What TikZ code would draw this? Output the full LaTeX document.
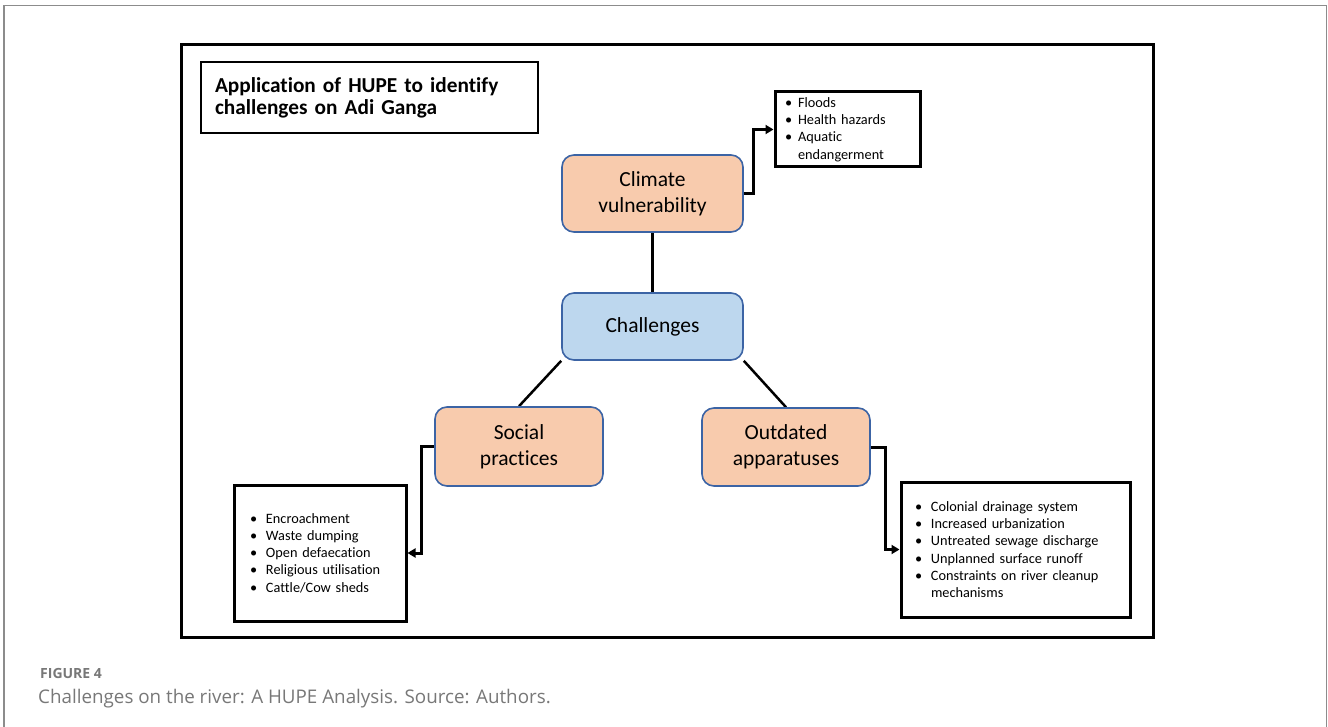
\documentclass[tikz,border=0pt]{standalone}
\usepackage{fontspec}
\setmainfont{Carlito}[Ligatures=NoCommon]
\newfontfamily\capfont{Open Sans}
\definecolor{boxpeach}{RGB}{248,203,173}
\definecolor{boxblue}{RGB}{189,215,238}
\definecolor{boxline}{RGB}{60,100,165}
\definecolor{capgray}{RGB}{120,120,120}
\definecolor{framegray}{RGB}{140,140,140}
\usetikzlibrary{arrows.meta,positioning,backgrounds}
\newcommand{\bul}[1][16pt]{\makebox[#1][l]{\textbullet}}

\begin{document}
\begin{tikzpicture}[x=1pt,y=-1pt,
  catbox/.style={draw=boxline,line width=1.6pt,fill=boxpeach,rounded corners=12pt,
                 align=center,inner sep=0pt,font=\fontsize{21.5}{26}\selectfont},
  listbox/.style={draw,line width=3pt,align=left,inner ysep=0pt,
                  font=\fontsize{14.3}{17.3}\selectfont},
  link/.style={line width=2.5pt},
  feed/.style={line width=3pt,-{Triangle[length=8pt,width=9pt]}}]
  \useasboundingbox (0,0) rectangle (1328,727);
  % frames
  \draw[framegray,line width=1.8pt] (4,727) -- (4,5.5) -- (1326.5,5.5) -- (1326.5,727);
  \draw[line width=3pt] (181,45) rectangle (1153,637);
  \node[draw,line width=1.5pt,minimum width=337pt,minimum height=71pt,
        text width=309pt,inner xsep=14pt,align=left,
        font=\bfseries\fontsize{21.3}{22}\selectfont]
        (title) at (369.5,97.5) {Application of HUPE to identify\\challenges on Adi Ganga};
  % categories
  \node[catbox,minimum width=181pt,minimum height=77pt] (climate) at (652.5,193.5) {Climate\\vulnerability};
  \node[catbox,fill=boxblue,minimum width=181pt,minimum height=67pt] (chall) at (652.5,326.5) {Challenges};
  \node[catbox,minimum width=168pt,minimum height=79pt] (social) at (519,446.5) {Social\\practices};
  \node[catbox,minimum width=168pt,minimum height=78pt] (outdated) at (786,447) {Outdated\\apparatuses};
  % lists
  \node[listbox,minimum height=75pt,text width=125pt,inner xsep=10pt]
        (hazards) at (847.5,129.5)
        {\bul[13pt]Floods\\\bul[13pt]Health hazards\\\bul[13pt]Aquatic\\\hspace*{13pt}endangerment};
  \node[listbox,minimum height=136pt,text width=140pt,inner xsep=16pt]
        (slist) at (320,553)
        {\bul Encroachment\\\bul Waste dumping\\\bul Open defaecation\\\bul Religious utilisation\\\bul Cattle/Cow sheds};
  \node[listbox,minimum height=135pt,text width=201pt,inner xsep=14pt]
        (olist) at (1015.5,549.5)
        {\bul Colonial drainage system\\\bul Increased urbanization\\\bul Untreated sewage discharge\\\bul Unplanned surface runoff\\\bul Constraints on river cleanup\\\hspace*{16pt}mechanisms};
  % connectors
  \begin{scope}[on background layer]
    \fill[white] (0,0) rectangle (1328,727);
    \draw[link] (climate.south) -- (chall.north);
    \draw[link] (chall.south west) -- (social.north);
    \draw[link] (chall.south east) -- (outdated.north);
  \end{scope}
  \draw[feed] (climate.east) -- ++(10,0) |- (hazards.west);
  \draw[feed] (social.west) -- ++(-13,0) |- (slist.east);
  \draw[feed] (outdated.east) -- ++(15,0) |- (olist.west);
  % caption
  \node[anchor=base west,inner sep=0pt,text=capgray,font=\capfont\bfseries\fontsize{14}{16}\selectfont]
        (fignum) at (40,678) {FIGURE 4};
  \node[anchor=base west,inner sep=0pt,text=capgray,font=\capfont\fontsize{18.8}{21}\selectfont]
        (caption) at (38,703) {Challenges on the river: A HUPE Analysis. Source: Authors.};
\end{tikzpicture}
\end{document}
